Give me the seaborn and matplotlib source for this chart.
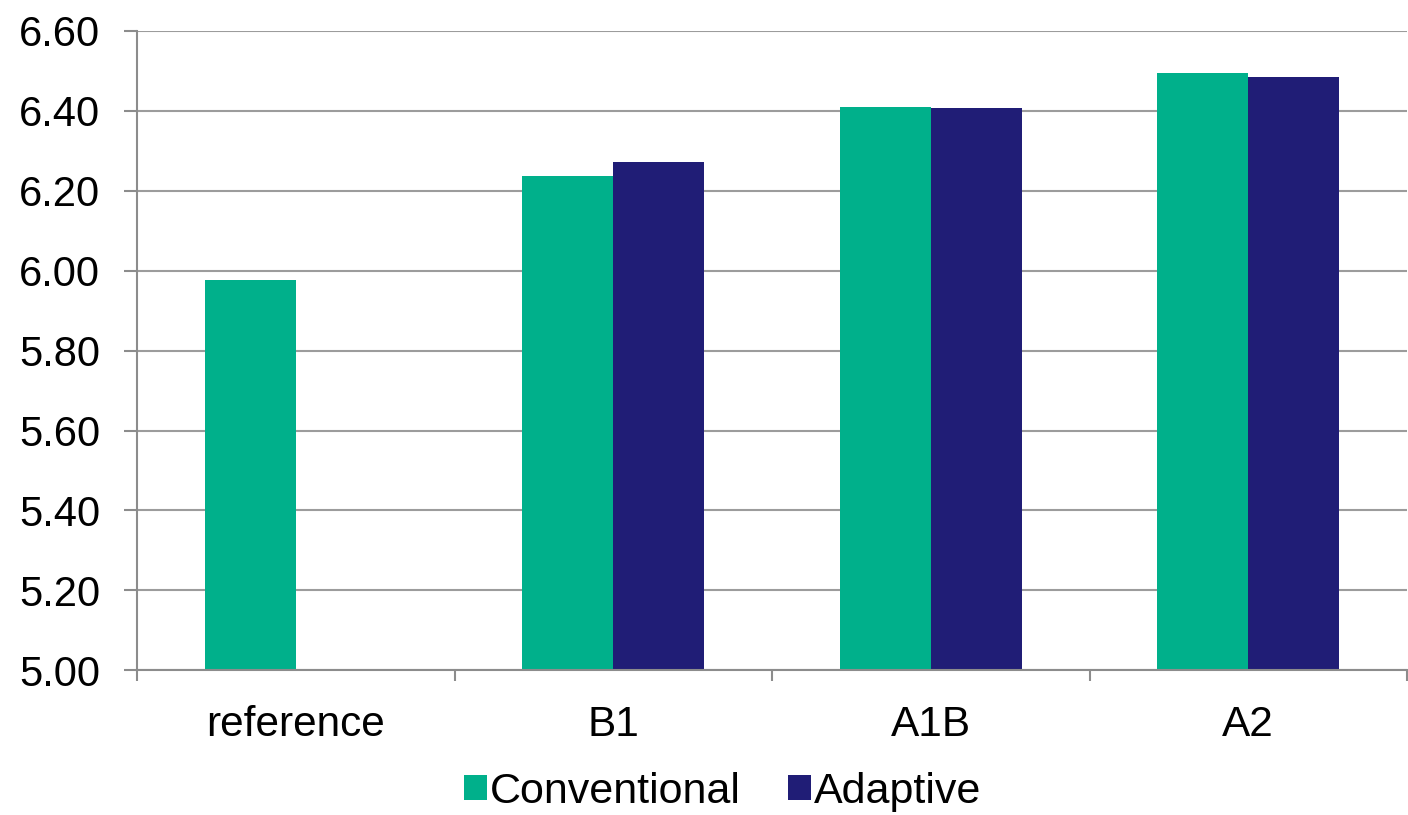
import matplotlib
matplotlib.use("Agg")
import matplotlib.pyplot as plt
import pandas as pd
import seaborn as sns
from matplotlib.ticker import FixedLocator, FormatStrFormatter

# Data
scenarios = ["reference", "B1", "A1B", "A2"]
series = ["Conventional", "Adaptive"]
conventional = [5.978, 6.237, 6.409, 6.494]
adaptive = [0.0, 6.271, 6.407, 6.486]
y_ticks = [5.00, 5.20, 5.40, 5.60, 5.80, 6.00, 6.20, 6.40, 6.60]

df = pd.DataFrame({
    "scenario": scenarios * 2,
    "series": [series[0]] * len(scenarios) + [series[1]] * len(scenarios),
    "value": conventional + adaptive,
})

TEAL = "#00B08B"
NAVY = "#201D76"
GRID = "#9C9C9C"
AXIS = "#8C8C8C"

sns.set_theme(style="white")
plt.rcParams["font.family"] = ["Liberation Sans", "DejaVu Sans"]
plt.rcParams["text.color"] = "black"

W, H = 1408, 815
fig = plt.figure(figsize=(W / 100, H / 100), dpi=100)
left, right, top, bottom = 137, 1407, 31, 670.3
ax = fig.add_axes([left / W, 1 - bottom / H, (right - left) / W, (bottom - top) / H])

sns.barplot(
    data=df, x="scenario", y="value", hue="series",
    order=scenarios, hue_order=series, palette=[TEAL, NAVY], saturation=1,
    width=0.574, gap=0, errorbar=None, linewidth=0, ax=ax,
)

# Value axis
ax.set_ylim(y_ticks[0], y_ticks[-1])
ax.yaxis.set_major_locator(FixedLocator(y_ticks))
ax.yaxis.set_major_formatter(FormatStrFormatter("%.2f"))
ax.grid(axis="y", color=GRID, linewidth=1.5)
ax.grid(axis="x", visible=False)
ax.set_axisbelow(True)

# Category axis: labels centred, tick marks on the category boundaries
ax.set_xlim(-0.5, len(scenarios) - 0.5)
ax.xaxis.set_minor_locator(FixedLocator([i - 0.5 for i in range(len(scenarios) + 1)]))
ax.tick_params(axis="x", which="major", length=0, pad=25, labelsize=30.5, labelcolor="black")
ax.tick_params(axis="x", which="minor", bottom=True, length=8, width=1.5, color=AXIS, direction="out")
ax.tick_params(axis="y", which="major", left=True, length=9.4, width=1.5, color=AXIS,
               direction="out", pad=17, labelsize=30, labelcolor="black")

ax.set_xlabel("")
ax.set_ylabel("")

for side in ("top", "right"):
    ax.spines[side].set_visible(False)
for side in ("left", "bottom"):
    ax.spines[side].set_color(AXIS)
    ax.spines[side].set_linewidth(1.5)

# Legend below the plot
handles, labels = ax.get_legend_handles_labels()
if ax.get_legend() is not None:
    ax.get_legend().remove()
fig.legend(
    handles, labels, loc="center", bbox_to_anchor=(723 / W, 1 - 792 / H),
    ncol=2, frameon=False, fontsize=31, handlelength=0.52, handleheight=0.52,
    handletextpad=0.08, columnspacing=1.1, labelcolor="black",
)

fig.savefig("out.png", dpi=100, facecolor="white")
